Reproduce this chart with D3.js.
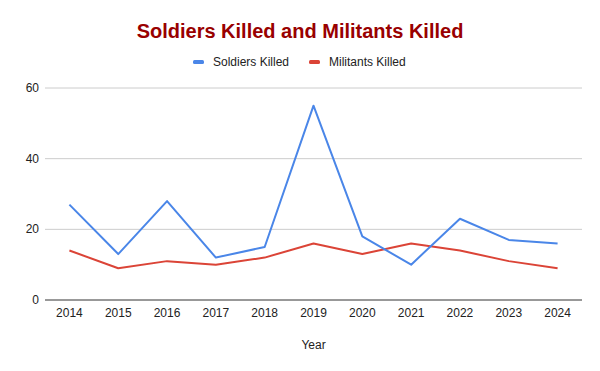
<!DOCTYPE html>
<html>
<head>
<meta charset="utf-8">
<script src="https://cdn.jsdelivr.net/npm/d3@7"></script>
<style>
  body { margin: 0; background: #fff; }
  text { font-family: "Liberation Sans", Arial, sans-serif; }
</style>
</head>
<body>
<div id="chart"></div>
<script>
const years = ["2014", "2015", "2016", "2017", "2018", "2019", "2020", "2021", "2022", "2023", "2024"];
const soldiersKilled = [27, 13, 28, 12, 15, 55, 18, 10, 23, 17, 16];
const militantsKilled = [14, 9, 11, 10, 12, 16, 13, 16, 14, 11, 9];
const yTicks = [0, 20, 40, 60];

const width = 600, height = 371;
const margin = { top: 88, right: 18, bottom: 71, left: 45 };

const svg = d3.select("#chart")
    .append("svg")
    .attr("width", width)
    .attr("height", height);

const x = d3.scalePoint().domain(years).range([margin.left, width - margin.right]).padding(0.5);
const y = d3.scaleLinear().domain([0, 60]).range([height - margin.bottom, margin.top]);

// title
svg.append("text")
    .attr("x", 300)
    .attr("y", 38)
    .attr("text-anchor", "middle")
    .style("font-size", "20px")
    .style("font-weight", "bold")
    .style("fill", "#990000")
    .text("Soldiers Killed and Militants Killed");

// gridlines
svg.append("g")
    .selectAll("line")
    .data(yTicks.filter(d => d > 0))
    .enter()
    .append("line")
    .attr("x1", margin.left)
    .attr("x2", width - margin.right)
    .attr("y1", d => y(d))
    .attr("y2", d => y(d))
    .style("stroke", "#cccccc")
    .style("stroke-width", 1);

// y labels
svg.append("g")
    .selectAll("text")
    .data(yTicks)
    .enter()
    .append("text")
    .attr("x", margin.left - 6)
    .attr("y", d => y(d) + 4)
    .attr("text-anchor", "end")
    .style("font-size", "12px")
    .style("fill", "#222")
    .text(d => d);

// x labels
svg.append("g")
    .selectAll("text")
    .data(years)
    .enter()
    .append("text")
    .attr("x", d => x(d))
    .attr("y", height - margin.bottom + 17)
    .attr("text-anchor", "middle")
    .style("font-size", "12px")
    .style("fill", "#222")
    .text(d => d);

svg.append("text")
    .attr("x", (margin.left + width - margin.right) / 2)
    .attr("y", 349)
    .attr("text-anchor", "middle")
    .style("font-size", "12px")
    .style("fill", "#222")
    .text("Year");

// lines
const series = [
    { name: "Soldiers Killed", values: soldiersKilled, color: "#4a86e8" },
    { name: "Militants Killed", values: militantsKilled, color: "#db4437" }
];

const line = d3.line()
    .x((d, i) => x(years[i]))
    .y(d => y(d));

svg.append("g")
    .selectAll("path")
    .data(series.slice().reverse())
    .enter()
    .append("path")
    .attr("d", d => line(d.values))
    .style("fill", "none")
    .style("stroke", d => d.color)
    .style("stroke-width", 2)
    .style("stroke-linejoin", "round");

// baseline
svg.append("line")
    .attr("x1", margin.left)
    .attr("x2", width - margin.right)
    .attr("y1", y(0))
    .attr("y2", y(0))
    .style("stroke", "#333")
    .style("stroke-width", 1);

// legend
const legendX = [193, 309];
const legend = svg.append("g")
    .selectAll("g")
    .data(series)
    .enter()
    .append("g")
    .attr("transform", (d, i) => `translate(${legendX[i]},62)`);

legend.append("rect")
    .attr("x", 0)
    .attr("y", -2)
    .attr("width", 11)
    .attr("height", 4)
    .attr("rx", 1.5)
    .style("fill", d => d.color);

legend.append("text")
    .attr("x", 20)
    .attr("y", 4)
    .style("font-size", "12px")
    .style("fill", "#222")
    .text(d => d.name);
</script>
</body>
</html>
